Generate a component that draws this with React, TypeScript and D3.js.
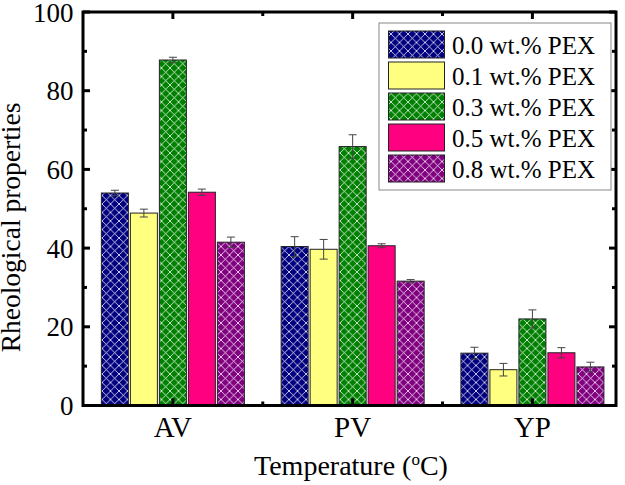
import React from "react";
import * as d3 from "d3";

const categories = ["AV", "PV", "YP"];
const seriesNames = ["0.0 wt.% PEX", "0.1 wt.% PEX", "0.3 wt.% PEX", "0.5 wt.% PEX", "0.8 wt.% PEX"];
const seriesColors = ["#000080", "#FFFF80", "#008000", "#FF0080", "#800080"];
const seriesHatched = [true, false, true, false, true];
// values[series][category]
const values = [
  [54.0, 40.4, 13.3],
  [48.9, 39.7, 9.1],
  [87.8, 65.8, 22.0],
  [54.2, 40.6, 13.4],
  [41.5, 31.6, 9.8],
];
const errors = [
  [0.7, 2.5, 1.5],
  [1.0, 2.5, 1.6],
  [0.7, 3.0, 2.3],
  [0.8, 0.5, 1.3],
  [1.3, 0.4, 1.2],
];
const yTicks = [0, 20, 40, 60, 80, 100];
const yMinorTicks = [10, 30, 50, 70, 90];

const W = 625;
const H = 485;
const left = 83;
const right = 616;
const top = 12;
const bottom = 405.5;
const font = "Liberation Serif";

export default function App() {
  const x = d3.scaleLinear().domain([0.5, 3.465]).range([left, right]);
  const y = d3.scaleLinear().domain([0, 100]).range([bottom, top]);
  const barW = 27;
  const step = 29;
  const nS = seriesNames.length;

  const boundaries = [1.5, 2.5];

  return (
    <svg width={W} height={H} style={{ position: "absolute", left: 0, top: 0, background: "#fff" }}>
      <defs>
        {seriesColors.map((c, i) => (
          <pattern key={i} id={`hatch${i}`} width={8.5} height={8.5} patternUnits="userSpaceOnUse">
            <rect width={8.5} height={8.5} fill={c} />
            {seriesHatched[i] && (
              <>
                <path d="M0,0 L8.5,8.5 M-1,7.5 L1,9.5 M7.5,-1 L9.5,1" stroke="#fff" strokeWidth={0.9} opacity={0.85} />
                <path d="M8.5,0 L0,8.5 M-1,1 L1,-1 M7.5,9.5 L9.5,7.5" stroke="#fff" strokeWidth={0.9} opacity={0.85} />
              </>
            )}
          </pattern>
        ))}
      </defs>

      {/* bars */}
      {categories.map((cat, ci) =>
        seriesNames.map((s, si) => {
          const cx = x(ci + 1) + (si - (nS - 1) / 2) * step;
          const v = values[si][ci];
          const e = errors[si][ci];
          return (
            <g key={`${ci}-${si}`}>
              <rect
                x={cx - barW / 2}
                y={y(v)}
                width={barW}
                height={y(0) - y(v)}
                fill={`url(#hatch${si})`}
                stroke="#222"
                strokeWidth={1}
              />
              <line x1={cx} x2={cx} y1={y(v - e)} y2={y(v + e)} stroke="#444" strokeWidth={1} />
              <line x1={cx - 4} x2={cx + 4} y1={y(v + e)} y2={y(v + e)} stroke="#444" strokeWidth={1} />
              <line x1={cx - 4} x2={cx + 4} y1={y(v - e)} y2={y(v - e)} stroke="#444" strokeWidth={1} />
            </g>
          );
        })
      )}

      {/* frame */}
      <rect x={left} y={top} width={right - left} height={bottom - top} fill="none" stroke="#000" strokeWidth={3} />

      {/* y ticks */}
      {yTicks.map((t) => (
        <g key={t}>
          <line x1={left} x2={left + 7} y1={y(t)} y2={y(t)} stroke="#000" strokeWidth={3} />
          <line x1={right} x2={right - 7} y1={y(t)} y2={y(t)} stroke="#000" strokeWidth={3} />
          <text x={left - 9.5} y={y(t) + 9.5} textAnchor="end" fontFamily={font} fontSize={27} fill="#000">
            {t}
          </text>
        </g>
      ))}
      {yMinorTicks.map((t) => (
        <g key={t}>
          <line x1={left} x2={left + 4} y1={y(t)} y2={y(t)} stroke="#000" strokeWidth={3} />
          <line x1={right} x2={right - 4} y1={y(t)} y2={y(t)} stroke="#000" strokeWidth={3} />
        </g>
      ))}

      {/* x ticks */}
      {categories.map((c, i) => (
        <g key={c}>
          <line x1={x(i + 1)} x2={x(i + 1)} y1={bottom} y2={bottom - 7} stroke="#000" strokeWidth={3} />
          <line x1={x(i + 1)} x2={x(i + 1)} y1={top} y2={top + 7} stroke="#000" strokeWidth={3} />
          <text x={x(i + 1)} y={437} textAnchor="middle" fontFamily={font} fontSize={29} fill="#000">
            {c}
          </text>
        </g>
      ))}
      {boundaries.map((b) => (
        <g key={b}>
          <line x1={x(b)} x2={x(b)} y1={bottom} y2={bottom - 4} stroke="#000" strokeWidth={3} />
          <line x1={x(b)} x2={x(b)} y1={top} y2={top + 4} stroke="#000" strokeWidth={3} />
        </g>
      ))}

      {/* axis titles */}
      <text x={351} y={475} textAnchor="middle" fontFamily={font} fontSize={28} fill="#000">
        Temperature (<tspan dy={-10} fontSize={17}>o</tspan>
        <tspan dy={10}>C)</tspan>
      </text>
      <text
        transform={`translate(20, 227.5) rotate(-90)`}
        textAnchor="middle"
        fontFamily={font}
        fontSize={27.5}
        fill="#000"
      >
        Rheological properties
      </text>

      {/* legend */}
      <rect x={379} y={23} width={232} height={167} fill="#fff" stroke="#888" strokeWidth={1} />
      {seriesNames.map((s, i) => (
        <g key={s}>
          <rect x={388.5} y={31 + i * 31} width={56} height={27} fill={`url(#hatch${i})`} stroke="#222" strokeWidth={1} />
          <text x={452} y={53.5 + i * 31} fontFamily={font} fontSize={25} fill="#000">
            {s}
          </text>
        </g>
      ))}
    </svg>
  );
}
